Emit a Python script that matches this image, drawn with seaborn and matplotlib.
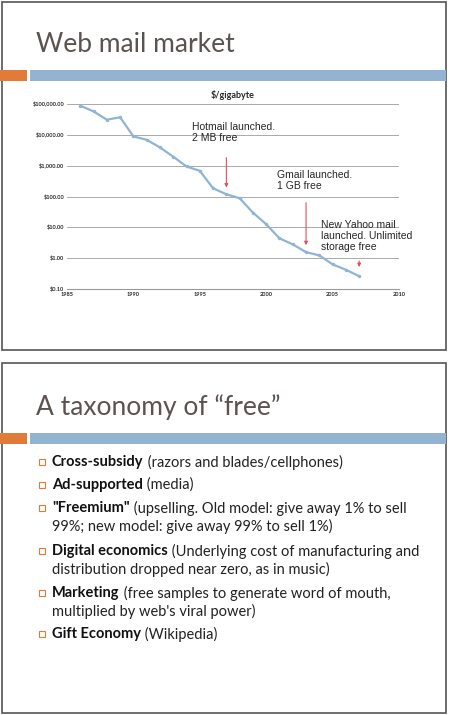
import matplotlib
matplotlib.use("Agg")
import matplotlib.pyplot as plt
import seaborn as sns
import pandas as pd
from matplotlib.patches import Rectangle
from matplotlib.ticker import FixedLocator, FixedFormatter

years = list(range(1986, 2008))
price_per_gb = [88000, 57500, 31000, 37000, 8900, 6900, 3900, 1960, 940, 680, 185,
                118, 88, 30, 12.6, 4.4, 2.8, 1.57, 1.23, 0.63, 0.42, 0.26]
ytick_vals = [0.1, 1, 10, 100, 1000, 10000, 100000]
ytick_labels = ["$0.10", "$1.00", "$10.00", "$100.00", "$1,000.00", "$10,000.00", "$100,000.00"]
xtick_vals = [1985, 1990, 1995, 2000, 2005, 2010]
annotations = ["Hotmail launched.\n2 MB free", "Gmail launched.\n1 GB free",
               "New Yahoo mail\nlaunched. Unlimited\nstorage free"]
arrow_years = [1997, 2003, 2007]
bullets = [("Cross-subsidy", " (razors and blades/cellphones)"),
           ("Ad-supported", " (media)"),
           ("\"Freemium\"", " (upselling. Old model: give away 1% to sell\n99%; new model: give away 99% to sell 1%)"),
           ("Digital economics", " (Underlying cost of manufacturing and\ndistribution dropped near zero, as in music)"),
           ("Marketing", " (free samples to generate word of mouth,\nmultiplied by web's viral power)"),
           ("Gift Economy", " (Wikipedia)")]

sns.set_style("white")
plt.rcParams['font.family'] = ['Lato', 'DejaVu Sans']
W, H = 450, 715
fig = plt.figure(figsize=(4.5, 7.15), dpi=100)
fig.patch.set_facecolor("white")

def fx(x): return x / W
def fy(y): return 1 - y / H

def rect(x0, y0, x1, y1, **kw):
    fig.add_artist(Rectangle((fx(x0), fy(y1)), fx(x1) - fx(x0), (y1 - y0) / H,
                             transform=fig.transFigure, **kw))

rect(2, 2, 446, 350, fill=False, edgecolor="#555555", lw=1.2)
rect(2, 363, 446, 713, fill=False, edgecolor="#555555", lw=1.2)
for y0 in (70, 433):
    rect(0, y0, 27, y0 + 11, facecolor="#e07b39", edgecolor="none")
    rect(30, y0, 446, y0 + 11, facecolor="#94b3d1", edgecolor="none")

title_c = "#5b5350"
fig.text(fx(36), fy(45), "Web mail market", fontsize=19, color=title_c, va="center")
fig.text(fx(36), fy(407), "A taxonomy of \u201cfree\u201d", fontsize=19, color=title_c, va="center")

ax = fig.add_axes([fx(67), fy(289), fx(399) - fx(67), (289 - 104) / H])
df = pd.DataFrame({"year": years, "price": price_per_gb})
sns.lineplot(data=df, x="year", y="price", ax=ax, color="#8fb4d4", lw=1.6, marker="o",
             markersize=2.5, markeredgewidth=0)
ax.set_yscale("log")
ax.set_ylim(0.1, 100000)
ax.set_xlim(1985, 2010)
ax.yaxis.set_major_locator(FixedLocator(ytick_vals))
ax.yaxis.set_major_formatter(FixedFormatter(ytick_labels))
ax.yaxis.set_minor_locator(FixedLocator([]))
ax.set_xticks(xtick_vals)
ax.tick_params(labelsize=4, length=0, pad=2)
for t in ax.get_xticklabels() + ax.get_yticklabels():
    t.set_fontweight("bold")
ax.grid(axis="y", color="#aaaaaa", lw=0.7)
for s in ("top", "right", "left"):
    ax.spines[s].set_visible(False)
ax.spines["bottom"].set_color("#999999")
ax.set_xlabel("")
ax.set_ylabel("")
ax.set_title("$/gigabyte", fontsize=6.5, fontweight="bold", pad=4)

text_pos = [(1994.4, 10**3.74), (2000.8, 10**2.18), (2004.1, 10**0.2)]
arrow_from = [(10**3.35, 10**2.2), (10**1.89, 10**0.33), (10**0.0, 10**-0.38)]
for txt, tp, xx, (a0, a1) in zip(annotations, text_pos, arrow_years, arrow_from):
    ax.text(tp[0], tp[1], txt, fontsize=7.5, family=["Liberation Sans"], va="bottom", ha="left",
            linespacing=1.1)
    ax.annotate("", xy=(xx, a1), xytext=(xx, a0),
                arrowprops=dict(arrowstyle="-|>", color="#e05060", lw=0.8, mutation_scale=5))

ys = [462, 485, 508, 551, 593, 634]
for (b, rest), y in zip(bullets, ys):
    rect(39, y - 3, 45, y + 3, fill=False, edgecolor="#e07b39", lw=0.8)
    t = fig.text(fx(52), fy(y), b, fontsize=10.5, fontweight="bold", va="center", color="#111111")
    fig.canvas.draw()
    ext = t.get_window_extent()
    lines = rest.split("\n")
    fig.text(ext.x1 / fig.bbox.width, fy(y), lines[0], fontsize=10.5, va="center", color="#222222")
    for i, ln in enumerate(lines[1:], 1):
        fig.text(fx(52), fy(y + 18 * i), ln, fontsize=10.5, va="center", color="#222222")

fig.savefig("out.png", dpi=100)
